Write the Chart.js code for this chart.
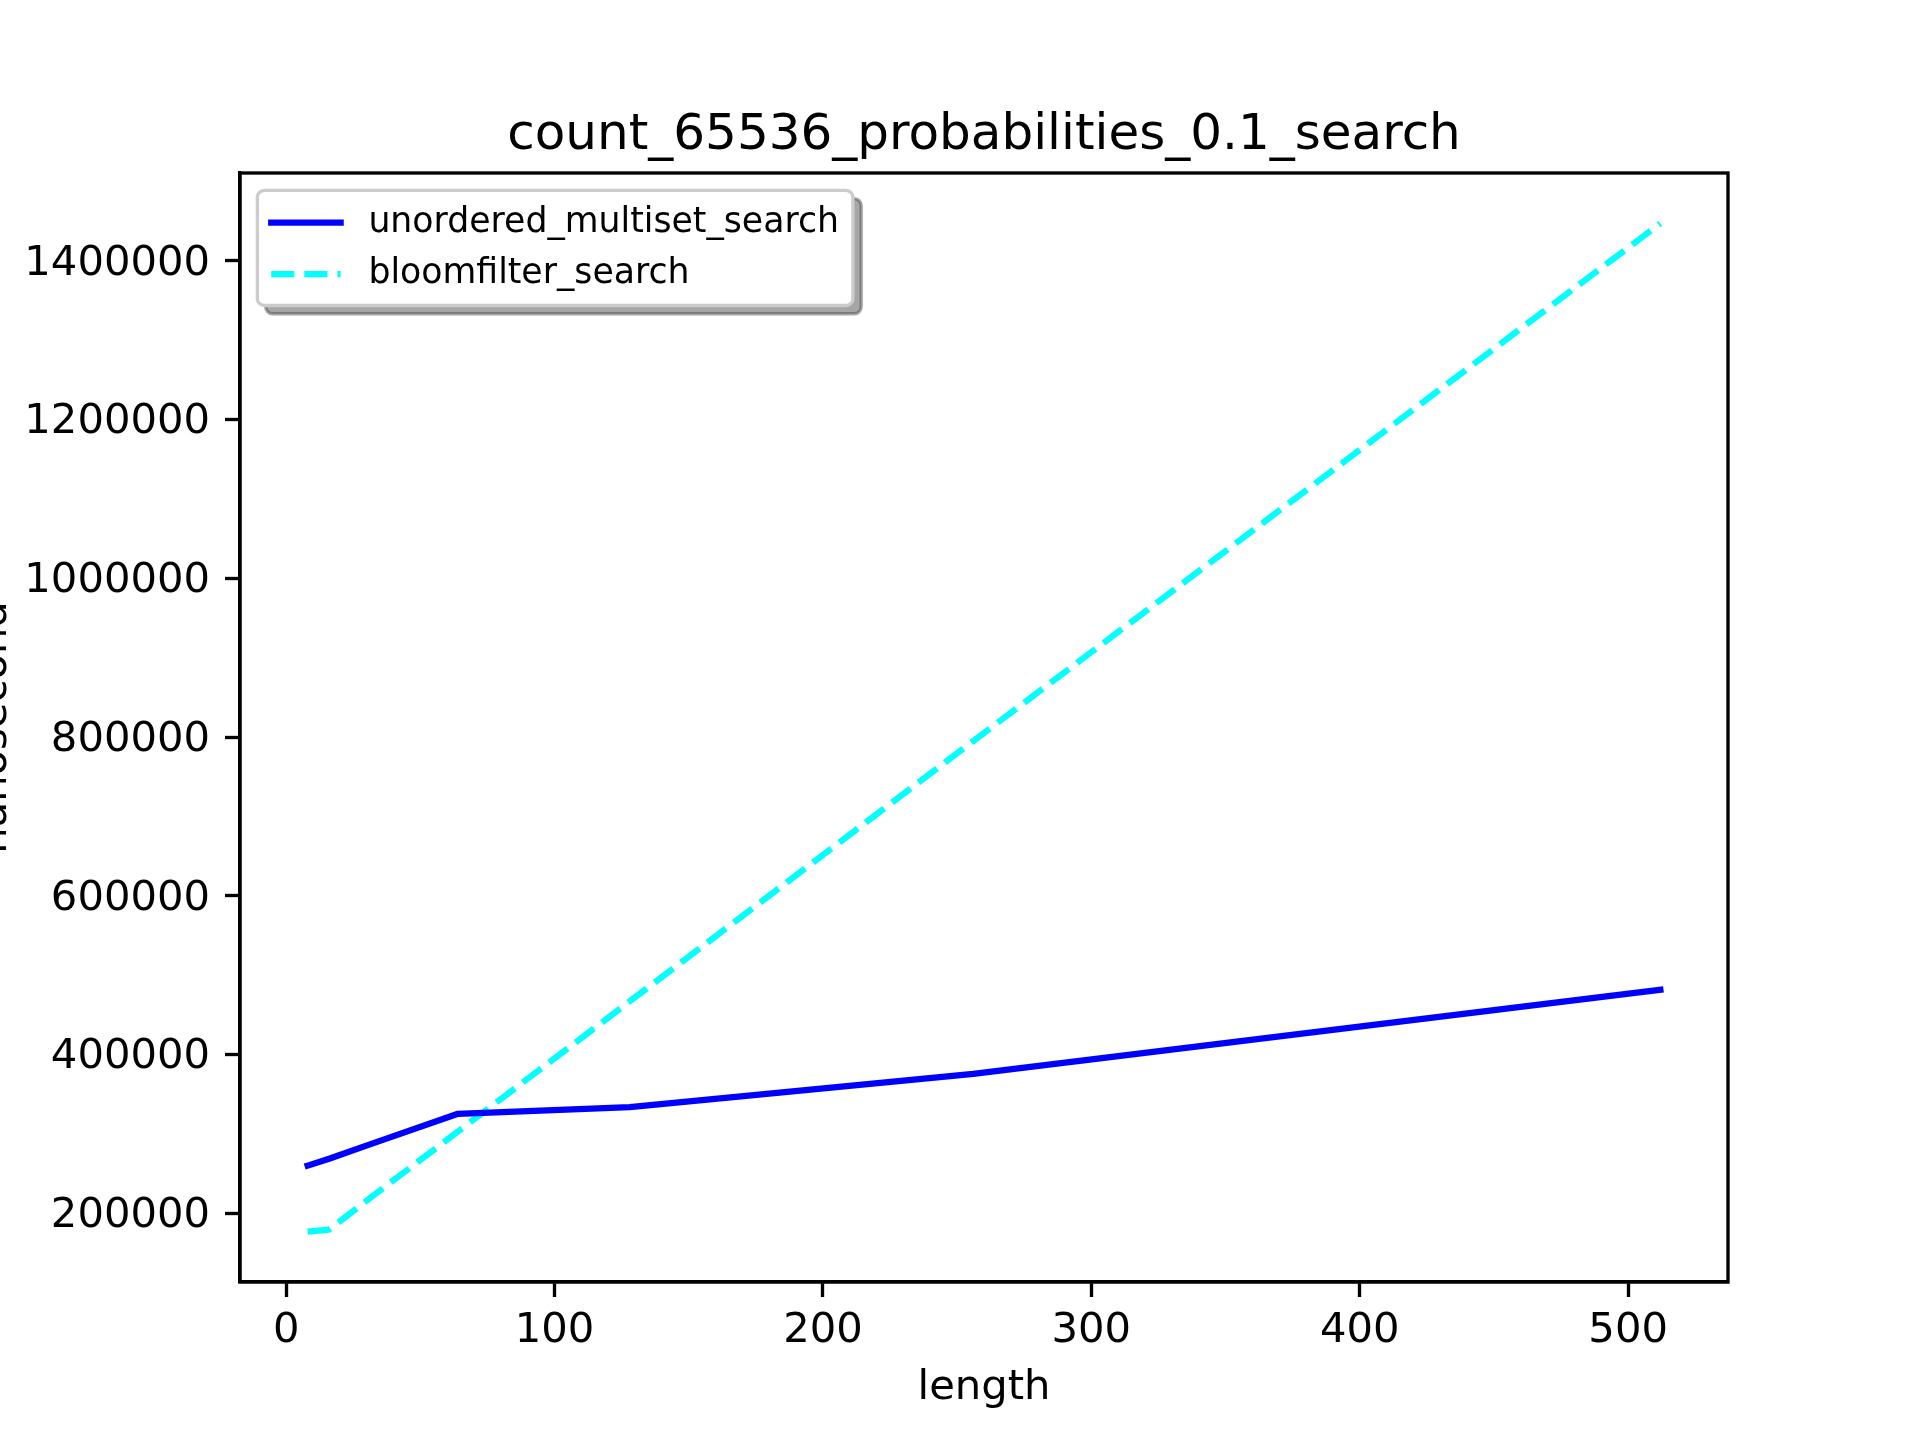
<!DOCTYPE html>
<html>
<head>
<meta charset="utf-8">
<script src="https://cdn.jsdelivr.net/npm/chart.js@4/dist/chart.umd.min.js"></script>
<style>
  html, body { margin: 0; padding: 0; background: #fff; overflow: hidden; }
  canvas { display: block; }
</style>
</head>
<body>
<canvas id="chart" width="1920" height="1440"></canvas>
<script>
// values
const lengths = [8, 16, 32, 64, 128, 256, 512];
const unorderedMultisetSearch = [260000, 268600, 287700, 325300, 333600, 375700, 481600];
const bloomfilterSearch = [176900, 179500, 221000, 303000, 467000, 795000, 1447200];
const xTickValues = [0, 100, 200, 300, 400, 500];
const yTickValues = [200000, 400000, 600000, 800000, 1000000, 1200000, 1400000];

const FONT = '"DejaVu Sans", "Liberation Sans", sans-serif';
const TICK_PX = 41.7;   // 10pt @ 300 dpi
const SPINE = 3.33;     // 0.8pt

// matplotlib style autoscale: 5% margin on each side
function withMargin(values) {
  const lo = Math.min(...values), hi = Math.max(...values);
  const m = (hi - lo) * 0.05;
  return { min: lo - m, max: hi + m };
}
const xRange = withMargin(lengths);
const yRange = withMargin(unorderedMultisetSearch.concat(bloomfilterSearch));

// top/right spines
const frame = {
  id: 'frame',
  afterDatasetsDraw(chart) {
    const { ctx, chartArea: a } = chart;
    ctx.save();
    ctx.strokeStyle = '#000';
    ctx.lineWidth = SPINE;
    ctx.strokeRect(a.left, a.top, a.right - a.left, a.bottom - a.top);
    ctx.restore();
  }
};

function roundRect(ctx, x, y, w, h, r) {
  ctx.beginPath();
  ctx.moveTo(x + r, y);
  ctx.arcTo(x + w, y, x + w, y + h, r);
  ctx.arcTo(x + w, y + h, x, y + h, r);
  ctx.arcTo(x, y + h, x, y, r);
  ctx.arcTo(x, y, x + w, y, r);
  ctx.closePath();
}

// legend in the upper left corner, with shadow like matplotlib
const boxLegend = {
  id: 'boxLegend',
  afterDraw(chart) {
    const { ctx, chartArea: a } = chart;
    const items = chart.data.datasets;
    const fs = 34.7;
    ctx.save();
    ctx.font = fs + 'px ' + FONT;
    const textW = Math.max(...items.map(d => ctx.measureText(d.label).width));
    const pad = 0.4 * fs, handleLen = 2 * fs, gap = 0.8 * fs;
    const rowH = 0.98 * fs, spacing = 0.5 * fs;
    const x0 = a.left + 0.5 * fs, y0 = a.top + 0.5 * fs;
    const w = pad * 2 + handleLen + gap + textW;
    const h = pad * 2 + items.length * rowH + (items.length - 1) * spacing + 2;
    const r = 0.2 * fs;

    // shadow
    roundRect(ctx, x0 + 8.3, y0 + 8.3, w, h, r);
    ctx.fillStyle = 'rgba(77,77,77,0.5)';
    ctx.fill();
    ctx.strokeStyle = 'rgba(77,77,77,0.5)';
    ctx.lineWidth = SPINE;
    ctx.stroke();

    // box
    roundRect(ctx, x0, y0, w, h, r);
    ctx.fillStyle = '#fff';
    ctx.fill();
    ctx.strokeStyle = '#cccccc';
    ctx.stroke();

    items.forEach((ds, i) => {
      const cy = y0 + pad + rowH / 2 + i * (rowH + spacing) + 1.5;
      ctx.beginPath();
      ctx.setLineDash(ds.borderDash || []);
      ctx.strokeStyle = ds.borderColor;
      ctx.lineWidth = ds.borderWidth;
      ctx.lineCap = ds.borderCapStyle || 'butt';
      ctx.moveTo(x0 + pad, cy);
      ctx.lineTo(x0 + pad + handleLen, cy);
      ctx.stroke();
      ctx.setLineDash([]);
      ctx.fillStyle = '#000';
      ctx.textBaseline = 'middle';
      ctx.textAlign = 'left';
      ctx.fillText(ds.label, x0 + pad + handleLen + gap, cy);
    });
    ctx.restore();
  }
};

const toXY = (xs, ys) => xs.map((x, i) => ({ x, y: ys[i] }));

new Chart(document.getElementById('chart'), {
  type: 'line',
  data: {
    datasets: [
      {
        label: 'unordered_multiset_search',
        data: toXY(lengths, unorderedMultisetSearch),
        borderColor: '#0000ff',
        borderWidth: 6.25,
        borderCapStyle: 'square',
        borderJoinStyle: 'round',
        pointRadius: 0,
        tension: 0,
        fill: false
      },
      {
        label: 'bloomfilter_search',
        data: toXY(lengths, bloomfilterSearch),
        borderColor: '#00ffff',
        borderWidth: 6.25,
        borderDash: [23.1, 10],
        borderCapStyle: 'butt',
        borderJoinStyle: 'round',
        pointRadius: 0,
        tension: 0,
        fill: false
      }
    ]
  },
  options: {
    responsive: false,
    animation: false,
    devicePixelRatio: 1,
    layout: { padding: { left: 0, right: 192, top: 0, bottom: 0 } },
    plugins: {
      legend: { display: false },
      tooltip: { enabled: false },
      title: {
        display: true,
        fullSize: false,
        text: 'count_65536_probabilities_0.1_search',
        color: '#000',
        font: { family: FONT, size: 50, weight: 'normal' },
        padding: { top: 106, bottom: 7 }
      }
    },
    scales: {
      x: {
        type: 'linear',
        min: xRange.min,
        max: xRange.max,
        afterBuildTicks: axis => { axis.ticks = xTickValues.map(v => ({ value: v })); },
        afterFit: axis => { axis.height = 158; },
        grid: { display: true, drawOnChartArea: false, drawTicks: true, tickLength: 15, tickWidth: SPINE, tickColor: '#000' },
        border: { display: true, color: '#000', width: SPINE },
        ticks: { color: '#000', font: { family: FONT, size: TICK_PX }, padding: 9, maxRotation: 0, autoSkip: false },
        title: { display: true, text: 'length', color: '#000', font: { family: FONT, size: TICK_PX }, padding: { top: 0, bottom: 27 } }
      },
      y: {
        type: 'linear',
        min: yRange.min,
        max: yRange.max,
        afterBuildTicks: axis => { axis.ticks = yTickValues.map(v => ({ value: v })); },
        afterFit: axis => { axis.width = 240; },
        grid: { display: true, drawOnChartArea: false, drawTicks: true, tickLength: 15, tickWidth: SPINE, tickColor: '#000' },
        border: { display: true, color: '#000', width: SPINE },
        ticks: { color: '#000', font: { family: FONT, size: TICK_PX }, padding: 15, labelOffset: 3, autoSkip: false, callback: v => String(v) },
        title: { display: true, text: 'nanosecond', color: '#000', font: { family: FONT, size: TICK_PX }, padding: { top: -30, bottom: 0 } }
      }
    }
  },
  plugins: [frame, boxLegend]
});
</script>
</body>
</html>
